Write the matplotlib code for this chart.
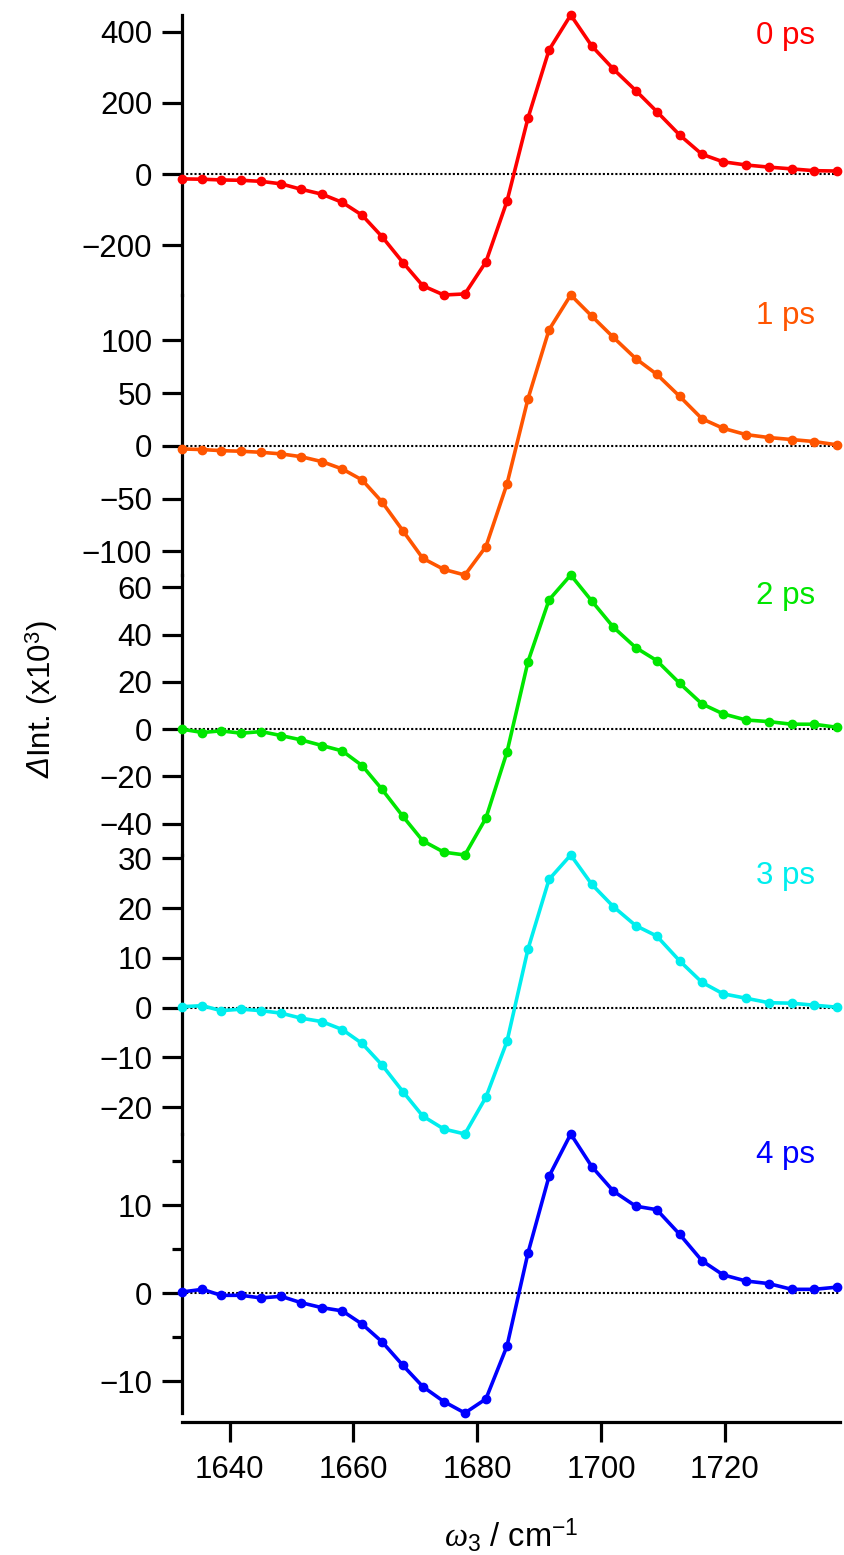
import matplotlib.pyplot as plt

plt.rcParams['font.family'] = ['Liberation Sans', 'DejaVu Sans']
plt.rcParams['mathtext.fontset'] = 'custom'
plt.rcParams['mathtext.rm'] = 'Liberation Sans'
plt.rcParams['mathtext.it'] = 'Liberation Serif:italic'

wavenumber = [1632.3, 1635.6, 1638.6, 1641.9, 1645.1, 1648.3, 1651.5, 1654.9, 1658.2, 1661.4,
              1664.6, 1668.0, 1671.2, 1674.6, 1678.0, 1681.4, 1684.8, 1688.2, 1691.6, 1695.1,
              1698.5, 1702.0, 1705.6, 1709.0, 1712.7, 1716.3, 1719.7, 1723.4, 1727.1, 1730.8,
              1734.4, 1738.1]

sig_0ps = [-13, -14, -16, -17, -20, -27, -42, -56, -79, -115, -175, -248, -313, -339, -336, -246,
           -76, 158, 349, 447, 360, 295, 235, 176, 110, 56, 35, 26, 20, 15, 10, 9]
sig_1ps = [-2.9, -3.5, -4.5, -5.1, -6.1, -7.6, -10.2, -14.9, -21.9, -32.3, -53.0, -80.5, -106.5,
           -117.0, -122.3, -95.4, -36.1, 44.7, 110.0, 142.9, 122.9, 102.7, 82.7, 67.8, 46.9, 25.7,
           16.7, 10.7, 7.9, 6.0, 4.1, 1.0]
sig_2ps = [0.0, -1.4, -0.7, -1.7, -1.0, -2.7, -4.5, -6.9, -9.2, -15.4, -25.4, -36.9, -47.2, -52.0,
           -53.2, -37.6, -9.7, 28.6, 54.7, 65.2, 54.2, 43.1, 34.5, 29.0, 19.4, 10.7, 6.5, 3.9, 3.2,
           2.1, 2.1, 0.8]
sig_3ps = [0.2, 0.4, -0.6, -0.3, -0.6, -1.1, -2.1, -2.8, -4.4, -7.2, -11.5, -16.9, -21.8, -24.4,
           -25.4, -18.0, -6.8, 11.8, 25.8, 30.7, 24.8, 20.3, 16.5, 14.4, 9.4, 5.1, 2.8, 1.9, 1.0,
           0.9, 0.5, 0.1]
sig_4ps = [0.15, 0.45, -0.23, -0.23, -0.53, -0.34, -1.06, -1.63, -2.0, -3.5, -5.5, -8.2, -10.6,
           -12.3, -13.6, -12.0, -6.0, 4.6, 13.3, 18.1, 14.4, 11.6, 9.9, 9.5, 6.7, 3.7, 2.1, 1.4,
           1.1, 0.45, 0.45, 0.7]

signals = [sig_0ps, sig_1ps, sig_2ps, sig_3ps, sig_4ps]
labels = ["0 ps", "1 ps", "2 ps", "3 ps", "4 ps"]
line_colour = ["#FF0000", "#FF5500", "#00E600", "#00EEEE", "#0000FF"]
yticks = [[-200, 0, 200, 400],
          [-100, -50, 0, 50, 100],
          [-40, -20, 0, 20, 40, 60],
          [-20, -10, 0, 10, 20, 30],
          [-10, 0, 10]]
xticks = [1640, 1660, 1680, 1700, 1720]

W, H = 844, 1555
fig = plt.figure(figsize=(W / 100, H / 100), dpi=100)

# panel edges in pixels (top, bottom)
tops = [15, 295, 575, 855, 1134]
bottoms = [295, 575, 855, 1134, 1413]
left, right = 182, 840
fs = 22.5
lw_ax = 2.3

axes = []
for i in range(5):
    ax = fig.add_axes([left / W, 1 - bottoms[i] / H, (right - left) / W, (bottoms[i] - tops[i]) / H],
                      facecolor='none')
    ax.plot(wavenumber, signals[i], color=line_colour[i], lw=2.6, marker='o', ms=6,
            clip_on=False, zorder=3)
    ax.axhline(0, color='black', lw=1.5, ls=(0, (1, 1)), zorder=2)
    ax.set_xlim(1632.3, 1738.6)
    ax.set_ylim(min(signals[i]), max(signals[i]))
    ax.set_yticks(yticks[i])
    for s in ['top', 'right', 'bottom']:
        ax.spines[s].set_visible(False)
    ax.spines['left'].set_linewidth(lw_ax)
    ax.tick_params(axis='y', direction='out', length=14.4, width=lw_ax, labelsize=fs, pad=7)
    ax.tick_params(axis='x', bottom=False, labelbottom=False)
    fig.text((right - 25) / W, 1 - (tops[i] + 29) / H, labels[i], color=line_colour[i],
             fontsize=fs, ha='right', va='baseline')
    axes.append(ax)

# bottom panel: minor ticks and x axis
ax = axes[-1]
ax.set_yticks([-5, 5, 15], minor=True)
ax.tick_params(axis='y', which='minor', direction='out', length=7.2, width=lw_ax)
ax.spines['bottom'].set_visible(True)
ax.spines['bottom'].set_linewidth(lw_ax)
ax.spines['bottom'].set_position(('outward', 6.5))
ax.set_xticks(xticks)
ax.tick_params(axis='x', bottom=True, labelbottom=True, direction='out', length=14.4,
               width=lw_ax, labelsize=fs, pad=9)

# y label: italic Delta, then the rest
fig.text(42 / W, 1 - 757 / H, 'Δ', rotation=90, fontsize=fs, fontstyle='italic',
         ha='center', va='top')
fig.text(42 / W, 1 - 757 / H, r'Int. (x10$^{\mathregular{3}}$)', rotation=90,
         fontsize=fs, ha='center', va='bottom')
fig.text(511 / W, 1 - 1546 / H, r'$\mathit{ω}_{\mathregular{3}}$ / cm$^{\mathregular{-1}}$',
         fontsize=fs + 1, ha='center', va='baseline')

plt.savefig("out.png", dpi=100)
